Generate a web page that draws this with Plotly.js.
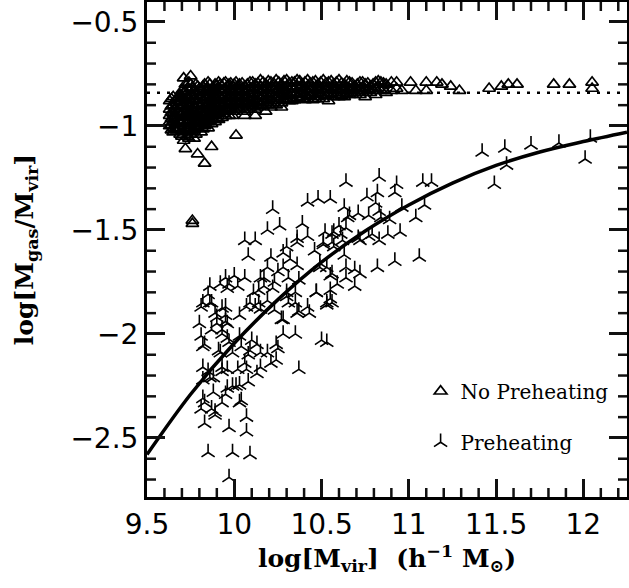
<!DOCTYPE html>
<html>
<head>
<meta charset="utf-8">
<script src="https://cdn.plot.ly/plotly-3.0.1.min.js"></script>
<style>html,body{margin:0;padding:0;background:#fff;}</style>
</head>
<body>
<div id="chart" style="width:629px;height:588px;"></div>
<script>
// No Preheating: columns of log M_vir with the log fgas values read in each column
var noColX = [9.63, 9.65, 9.67, 9.69, 9.71, 9.73, 9.75, 9.77, 9.79, 9.81, 9.83, 9.85, 9.87, 9.89, 9.91, 9.93, 9.95, 9.97, 9.99,
  10.01, 10.03, 10.06, 10.09, 10.12, 10.15, 10.18, 10.21, 10.24, 10.27, 10.30, 10.33, 10.36, 10.39, 10.42, 10.45, 10.48,
  10.51, 10.54, 10.57, 10.60, 10.63, 10.66, 10.69, 10.72, 10.75, 10.78, 10.81, 10.84, 10.87, 10.90, 10.93, 10.96,
  11.01, 11.04, 11.10, 11.16, 11.19, 11.24, 11.29, 11.46, 11.53, 11.57, 11.62, 11.83, 11.92, 12.05, 9.72, 9.76,
  9.64, 9.66, 9.68, 9.70, 9.72, 9.74, 9.76, 9.78, 9.80, 9.82, 9.84, 9.86, 9.88, 9.90, 9.92, 9.94, 9.96, 9.98, 10.00,
  10.02, 10.045, 10.075, 10.105, 10.135, 10.165, 10.195, 10.225, 10.255, 10.285, 10.315, 10.345, 10.375, 10.405,
  10.435, 10.465, 10.495, 10.525, 10.555, 10.585, 10.615, 10.645, 10.675, 10.705, 10.735, 10.765, 10.795, 10.825, 10.855];
var noColY = [
  [-0.88, -0.92, -0.95, -0.98, -1.00],
  [-0.86, -0.90, -0.94, -0.97, -1.01, -1.03],
  [-0.87, -0.89, -0.93, -0.96, -0.99, -1.02],
  [-0.85, -0.88, -0.91, -0.95, -0.98, -1.04],
  [-0.77, -0.84, -0.87, -0.90, -0.93, -0.96, -1.00, -1.03, -1.07],
  [-0.82, -0.86, -0.89, -0.92, -0.95, -0.98, -1.01, -1.05],
  [-0.76, -0.80, -0.85, -0.88, -0.91, -0.94, -0.97, -1.00, -1.04],
  [-0.83, -0.87, -0.90, -0.93, -0.96, -0.99, -1.02, -1.06],
  [-0.81, -0.85, -0.88, -0.92, -0.95, -0.98, -1.01, -1.135],
  [-0.83, -0.86, -0.90, -0.93, -0.96, -0.99, -1.03],
  [-0.80, -0.84, -0.88, -0.91, -0.94, -0.97, -1.00, -1.18],
  [-0.79, -0.82, -0.86, -0.89, -0.92, -0.95, -0.98, -1.01],
  [-0.84, -0.87, -0.90, -0.93, -0.96, -0.99, -1.10],
  [-0.80, -0.83, -0.86, -0.89, -0.92, -0.95, -0.98],
  [-0.79, -0.82, -0.85, -0.88, -0.91, -0.94, -0.97],
  [-0.81, -0.84, -0.87, -0.90, -0.93, -0.96],
  [-0.79, -0.82, -0.85, -0.88, -0.91, -0.95],
  [-0.80, -0.83, -0.86, -0.89, -0.92, -0.95],
  [-0.81, -0.84, -0.87, -0.90, -0.93, -0.95],
  [-0.79, -0.82, -0.85, -0.88, -0.91, -1.045],
  [-0.80, -0.83, -0.86, -0.89, -0.92],
  [-0.81, -0.84, -0.87, -0.90, -0.93, -0.95],
  [-0.79, -0.82, -0.85, -0.88, -0.91],
  [-0.80, -0.83, -0.86, -0.89, -0.92, -0.95],
  [-0.78, -0.81, -0.84, -0.87, -0.90],
  [-0.80, -0.83, -0.86, -0.89, -0.93],
  [-0.79, -0.82, -0.85, -0.88, -0.91],
  [-0.78, -0.81, -0.84, -0.87, -0.90],
  [-0.80, -0.83, -0.86, -0.89, -0.91],
  [-0.78, -0.81, -0.84, -0.87],
  [-0.79, -0.82, -0.85, -0.88],
  [-0.78, -0.81, -0.84, -0.865],
  [-0.80, -0.83, -0.86],
  [-0.78, -0.81, -0.84, -0.87],
  [-0.79, -0.82, -0.85, -0.875],
  [-0.80, -0.83, -0.86],
  [-0.78, -0.81, -0.84, -0.87],
  [-0.79, -0.82, -0.85, -0.88],
  [-0.80, -0.83, -0.86],
  [-0.78, -0.81, -0.84, -0.86],
  [-0.80, -0.83, -0.86],
  [-0.79, -0.82, -0.85],
  [-0.81, -0.84, -0.84],
  [-0.79, -0.82, -0.85],
  [-0.80, -0.83, -0.86],
  [-0.81, -0.84],
  [-0.79, -0.82, -0.85],
  [-0.79, -0.83],
  [-0.80, -0.84],
  [-0.79, -0.83],
  [-0.79, -0.82],
  [-0.83],
  [-0.79],
  [-0.83],
  [-0.79, -0.83],
  [-0.79],
  [-0.80],
  [-0.81],
  [-0.83],
  [-0.82],
  [-0.81],
  [-0.80],
  [-0.80],
  [-0.80],
  [-0.80],
  [-0.79, -0.82],
  [-1.11],
  [-1.455, -1.47],
  [-0.87, -0.905, -0.935, -0.965, -0.995, -1.02],
  [-0.88, -0.915, -0.95, -0.985, -1.015],
  [-0.86, -0.90, -0.94, -0.975, -1.01],
  [-0.83, -0.865, -0.905, -0.945, -0.985, -1.02, -1.05],
  [-0.80, -0.835, -0.875, -0.915, -0.955, -0.99, -1.025],
  [-0.79, -0.83, -0.87, -0.905, -0.94, -0.975, -1.015, -1.06],
  [-0.815, -0.855, -0.895, -0.925, -0.955, -0.99, -1.03],
  [-0.80, -0.84, -0.875, -0.915, -0.945, -0.975, -1.005, -1.04],
  [-0.82, -0.86, -0.895, -0.935, -0.97, -1.00],
  [-0.81, -0.85, -0.875, -0.915, -0.955, -0.985, -1.015],
  [-0.825, -0.865, -0.90, -0.935, -0.965, -0.995],
  [-0.80, -0.835, -0.875, -0.91, -0.945, -0.975],
  [-0.815, -0.85, -0.88, -0.915, -0.945, -0.97],
  [-0.805, -0.84, -0.875, -0.905, -0.935, -0.965],
  [-0.80, -0.83, -0.865, -0.895, -0.925],
  [-0.795, -0.83, -0.86, -0.895, -0.925, -0.94],
  [-0.81, -0.84, -0.87, -0.90, -0.93],
  [-0.795, -0.825, -0.855, -0.885, -0.915],
  [-0.80, -0.835, -0.865, -0.895, -0.92],
  [-0.81, -0.84, -0.87, -0.90],
  [-0.795, -0.825, -0.855, -0.885, -0.91],
  [-0.80, -0.83, -0.865, -0.895, -0.92],
  [-0.79, -0.815, -0.845, -0.875, -0.905],
  [-0.795, -0.825, -0.855, -0.885, -0.91],
  [-0.79, -0.825, -0.855, -0.88, -0.905],
  [-0.785, -0.815, -0.845, -0.875, -0.90],
  [-0.795, -0.83, -0.86, -0.89],
  [-0.79, -0.82, -0.85, -0.88],
  [-0.785, -0.815, -0.845, -0.875],
  [-0.795, -0.825, -0.855, -0.88],
  [-0.79, -0.82, -0.85, -0.875],
  [-0.785, -0.815, -0.845, -0.87],
  [-0.79, -0.82, -0.85, -0.875],
  [-0.795, -0.825, -0.855],
  [-0.785, -0.815, -0.845, -0.87],
  [-0.79, -0.82, -0.85],
  [-0.795, -0.825, -0.855],
  [-0.785, -0.815, -0.845],
  [-0.79, -0.82, -0.85],
  [-0.795, -0.825, -0.855],
  [-0.785, -0.815, -0.845],
  [-0.795, -0.825, -0.85],
  [-0.80, -0.83],
  [-0.79, -0.815, -0.84],
  [-0.795, -0.825],
  [-0.80, -0.83],
  [-0.785, -0.815],
  [-0.795, -0.825]
];

// Preheating points
var preX = [11.42, 11.55, 11.70, 11.86, 12.04, 12.01, 11.56, 11.13, 11.49,
  10.64, 10.83, 10.93, 10.92, 10.42, 10.48, 10.55, 10.22, 10.63, 10.76, 10.82, 10.81, 10.71, 10.66, 10.77, 10.83, 10.89,
  10.64, 10.19, 10.26, 10.39, 10.42, 10.36, 10.52, 10.56, 10.61, 10.71, 10.77, 10.83, 10.88, 10.06, 10.12, 10.08,
  10.30, 10.36, 10.46, 10.51, 10.57, 10.63, 10.21, 10.28, 10.32, 10.36, 10.49, 10.53, 10.56, 10.64, 10.69, 10.72,
  10.82, 10.92, 10.69, 10.64, 10.59, 10.55, 10.56, 10.53, 10.42, 10.43, 10.47, 10.36, 10.27, 10.31, 10.35, 10.30,
  10.23, 10.19, 10.25, 10.15, 10.17, 10.14, 10.11, 10.09, 10.14, 10.12, 10.00, 9.95, 10.06, 9.92, 9.86, 9.97, 10.02,
  9.85, 9.82, 9.87, 9.80, 9.89, 9.95, 9.95, 9.90, 9.96, 9.87, 9.93, 10.03, 10.07, 10.15, 10.28, 10.35, 10.50, 10.53,
  9.81, 9.83, 10.24, 10.10, 10.03, 9.95, 9.93, 9.82, 9.97, 9.92, 10.04, 9.99, 10.09, 10.15, 10.19, 10.25, 10.24,
  10.21, 9.82, 9.85, 9.93, 9.88, 9.96, 10.02, 10.07, 10.13, 10.15, 10.37, 9.82, 9.82, 9.88, 9.93, 9.95, 9.99, 10.03,
  10.08, 10.04, 9.89, 9.83, 10.07, 9.97, 10.07, 9.85, 9.99, 10.09, 9.97, 9.83, 9.91, 9.96, 10.13, 10.08, 10.06,
  9.86, 9.93, 10.01, 9.96, 9.81, 9.87, 10.03, 9.89, 9.96, 9.81, 9.86, 9.93, 9.90, 11.08, 10.65, 10.84, 10.96, 11.04,
  11.09, 10.60, 10.57, 10.72, 10.79, 10.95, 10.51, 10.56, 10.62, 10.28, 10.49, 11.06, 10.17, 10.31, 10.37, 10.55,
  10.22, 10.35, 10.47, 10.19, 10.30, 10.53, 10.55, 10.37, 10.23, 10.28];
var preY = [-1.125, -1.106, -1.091, -1.082, -1.058, -1.159, -1.188, -1.27, -1.28,
  -1.27, -1.245, -1.28, -1.32, -1.365, -1.35, -1.35, -1.40, -1.39, -1.34, -1.32, -1.37, -1.42, -1.43, -1.43, -1.41, -1.45,
  -1.49, -1.50, -1.48, -1.47, -1.53, -1.54, -1.51, -1.52, -1.52, -1.54, -1.53, -1.55, -1.52, -1.55, -1.55, -1.625,
  -1.58, -1.56, -1.60, -1.57, -1.58, -1.62, -1.63, -1.61, -1.64, -1.67, -1.66, -1.68, -1.71, -1.68, -1.69, -1.71,
  -1.68, -1.65, -1.77, -1.73, -1.76, -1.79, -1.85, -1.86, -1.87, -1.90, -1.80, -1.90, -1.93, -1.85, -1.85, -1.80,
  -1.75, -1.68, -1.70, -1.73, -1.77, -1.79, -1.80, -1.85, -1.85, -1.87, -1.72, -1.73, -1.73, -1.76, -1.77, -1.76, -1.77,
  -1.81, -1.85, -1.85, -1.95, -1.90, -1.87, -1.91, -1.95, -1.95, -1.98, -1.98, -1.91, -1.87, -1.88, -2.00, -2.00, -2.03, -2.04,
  -2.01, -2.05, -2.05, -2.03, -2.01, -1.94, -2.00, -2.06, -2.04, -2.09, -2.06, -2.09, -2.08, -2.09, -2.09, -2.07, -2.125,
  -2.14, -2.16, -2.18, -2.16, -2.21, -2.17, -2.17, -2.17, -2.19, -2.16, -2.17, -2.22, -2.31, -2.28, -2.33, -2.29, -2.25, -2.245,
  -2.23, -2.32, -2.375, -2.43, -2.40, -2.45, -2.47, -2.57, -2.57, -2.58, -2.69, -2.33, -2.08, -2.02, -2.05, -2.10, -2.14,
  -2.21, -2.18, -2.25, -2.26, -2.36, -2.36, -2.33, -2.39, -1.78, -1.87, -1.85, -1.875, -1.92, -1.27, -1.44, -1.44, -1.39, -1.44,
  -1.38, -1.48, -1.51, -1.55, -1.52, -1.51, -1.56, -1.56, -1.55, -1.68, -1.68, -1.63, -1.73, -1.73, -1.74, -1.72,
  -1.78, -1.80, -1.80, -1.84, -1.82, -1.85, -1.83, -1.89, -1.885, -1.93];

// Fitted curve (solid)
var fitX = [9.5, 9.75, 10.0, 10.25, 10.5, 10.75, 11.0, 11.25, 11.5, 11.75, 12.0, 12.25];
var fitY = [-2.58, -2.29, -2.045, -1.835, -1.655, -1.505, -1.38, -1.275, -1.19, -1.125, -1.075, -1.03];

// Universal baryon fraction (dotted)
var baryonX = [9.5, 12.25];
var baryonY = [-0.84, -0.84];

var seriesNames = ['No Preheating', 'Preheating'];

var noX = [], noY = [];
for (var i = 0; i < noColX.length; i++) {
  for (var j = 0; j < noColY[i].length; j++) { noX.push(noColX[i]); noY.push(noColY[i][j]); }
}

var xRange = [9.5, 12.25];
var yRange = [-2.784, -0.404];
var W = 629, H = 588, M = {l: 147, r: 2, t: 2, b: 91};
var xPerPx = (xRange[1] - xRange[0]) / (W - M.l - M.r);
var yPerPx = (yRange[1] - yRange[0]) / (H - M.t - M.b);

// Minor tick marks (every 0.1) on all four sides as segments through the axes
var tickX = [], tickY = [];
for (var k = 96; k <= 122; k++) {
  if (k % 5 === 0) continue;
  var xv = k / 10, lenY = 9 * yPerPx;
  tickX.push(xv, xv, null, xv, xv, null);
  tickY.push(yRange[0], yRange[0] + lenY, null, yRange[1], yRange[1] - lenY, null);
}
for (var m = -27; m <= -5; m++) {
  if (m % 5 === 0) continue;
  var yv = m / 10, lenX = 9 * xPerPx;
  tickX.push(xRange[0], xRange[0] + lenX, null, xRange[1], xRange[1] - lenX, null);
  tickY.push(yv, yv, null, yv, yv, null);
}

var traces = [
  {x: tickX, y: tickY, mode: 'lines', line: {color: '#111111', width: 2.5}, showlegend: false},
  {x: baryonX, y: baryonY, mode: 'lines', line: {color: 'black', width: 2.5, dash: '3px,7px'}, showlegend: false},
  {x: noX, y: noY, mode: 'markers', name: seriesNames[0], legendgroup: 'a',
   marker: {symbol: 'triangle-up-open', size: 11, color: 'black', line: {width: 1.7, color: 'black'}}},
  {x: preX, y: preY, mode: 'markers', name: seriesNames[1], legendgroup: 'b',
   marker: {symbol: 'y-up', size: 11, color: 'black', line: {width: 1.6, color: 'black'}}},
  {x: fitX, y: fitY, mode: 'lines', line: {color: 'black', width: 3.5, shape: 'spline'}, showlegend: false}
];

var tickFont = {family: 'DejaVu Sans', size: 28, color: 'black'};
var titleFont = {family: 'DejaVu Serif', size: 25, color: 'black', weight: 'bold'};

var layout = {
  width: W, height: H,
  margin: M,
  paper_bgcolor: 'white', plot_bgcolor: 'white',
  showlegend: true,
  legend: {x: 0.57, y: 0.253, xanchor: 'left', yanchor: 'top', bgcolor: 'rgba(0,0,0,0)',
    font: {family: 'DejaVu Serif', size: 20, color: 'black'}, traceorder: 'grouped', tracegroupgap: 22},
  xaxis: {
    range: xRange, dtick: 0.5, tick0: 9.5,
    ticks: 'inside', ticklen: 18, tickwidth: 2.5, tickcolor: '#111111', mirror: 'allticks',
    showgrid: false, zeroline: false,
    showline: true, linewidth: 3, linecolor: 'black', tickfont: tickFont,
    title: {text: 'log[M<sub>vir</sub>]  (h<sup>−1</sup> M<sub>⊙</sub>)', standoff: 8, font: titleFont}
  },
  yaxis: {
    range: yRange, dtick: 0.5, tick0: -0.5,
    ticks: 'inside', ticklen: 18, tickwidth: 2.5, tickcolor: '#111111', mirror: 'allticks',
    showgrid: false, zeroline: false,
    showline: true, linewidth: 3, linecolor: 'black', tickfont: tickFont,
    title: {text: 'log[M<sub>gas</sub>/M<sub>vir</sub>]', standoff: 30, font: titleFont}
  }
};

Plotly.newPlot('chart', traces, layout, {displayModeBar: false});
</script>
</body>
</html>
